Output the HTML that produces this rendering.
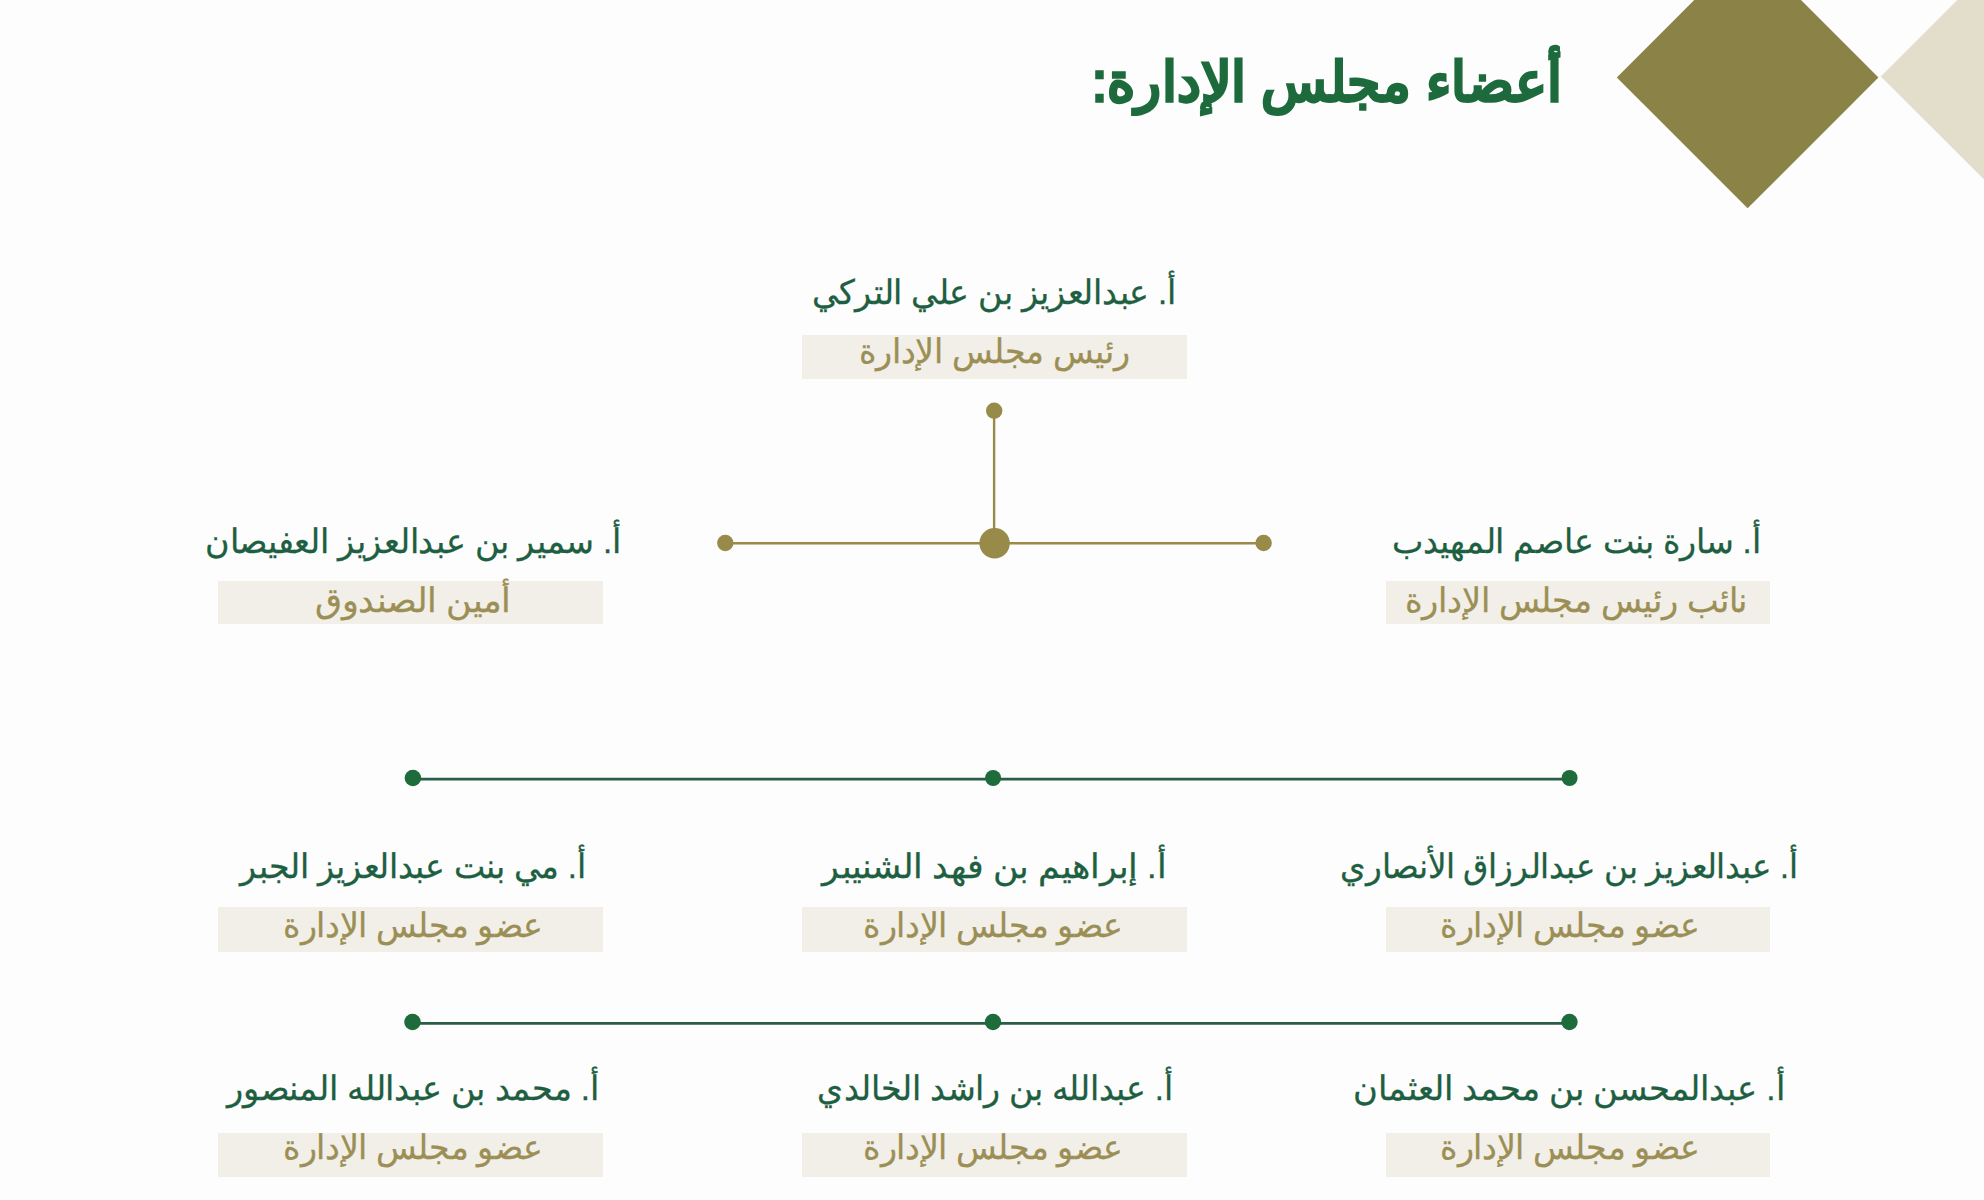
<!DOCTYPE html>
<html lang="ar"><head><meta charset="utf-8"><title>أعضاء مجلس الإدارة</title>
<style>
html,body{margin:0;padding:0}
body{width:1984px;height:1200px;overflow:hidden;background:#fdfdfd;position:relative;font-family:"Liberation Sans",sans-serif}
.d{position:absolute}
.dm{position:absolute;width:185.3px;height:185.3px;transform:rotate(45deg)}
.box{position:absolute;background:#f2efe9}
.t{position:absolute;white-space:nowrap;direction:rtl;text-align:center;line-height:40px;height:40px;transform-origin:50% 50%}
</style></head><body>
<div class="dm" style="left:1654.85px;top:-15.25px;background:#8b8247"></div>
<div class="dm" style="left:1918.95px;top:-15.65px;background:#e3decc"></div>
<div class="t" style="left:827.02px;top:61.60px;width:1000px;font-size:55.0px;color:#1d6a3d;font-weight:normal;transform:scaleX(0.9790);-webkit-text-stroke:3.4px #1d6a3d">أعضاء مجلس الإدارة:</div>
<div class="box" style="left:802.2px;top:335.1px;width:384.6px;height:43.9px"></div>
<div class="box" style="left:218.0px;top:580.6px;width:384.8px;height:43.9px"></div>
<div class="box" style="left:1386.0px;top:580.6px;width:384.0px;height:43.9px"></div>
<div class="box" style="left:1386.0px;top:907.3px;width:384.0px;height:44.3px"></div>
<div class="box" style="left:802.2px;top:907.3px;width:384.6px;height:44.3px"></div>
<div class="box" style="left:218.0px;top:907.3px;width:384.8px;height:44.3px"></div>
<div class="box" style="left:1386.0px;top:1133.0px;width:384.0px;height:44.0px"></div>
<div class="box" style="left:802.2px;top:1133.0px;width:384.6px;height:44.0px"></div>
<div class="box" style="left:218.0px;top:1133.0px;width:384.8px;height:44.0px"></div>
<div class="t" style="left:494.06px;top:272.50px;width:1000px;font-size:33.5px;color:#1e5f42;font-weight:normal;transform:scaleX(0.9797);-webkit-text-stroke:0.3px #1e5f42">أ. عبدالعزيز بن علي التركي</div>
<div class="t" style="left:-86.74px;top:522.00px;width:1000px;font-size:33.5px;color:#1e5f42;font-weight:normal;transform:scaleX(0.9822);-webkit-text-stroke:0.3px #1e5f42">أ. سمير بن عبدالعزيز العفيصان</div>
<div class="t" style="left:1076.26px;top:522.00px;width:1000px;font-size:33.5px;color:#1e5f42;font-weight:normal;transform:scaleX(0.9799);-webkit-text-stroke:0.3px #1e5f42">أ. سارة بنت عاصم المهيدب</div>
<div class="t" style="left:1068.52px;top:846.50px;width:1000px;font-size:33.5px;color:#1e5f42;font-weight:normal;transform:scaleX(0.9598);-webkit-text-stroke:0.3px #1e5f42">أ. عبدالعزيز بن عبدالرزاق الأنصاري</div>
<div class="t" style="left:494.02px;top:846.50px;width:1000px;font-size:33.5px;color:#1e5f42;font-weight:normal;transform:scaleX(1.0238);-webkit-text-stroke:0.3px #1e5f42">أ. إبراهيم بن فهد الشنيبر</div>
<div class="t" style="left:-87.02px;top:846.50px;width:1000px;font-size:33.5px;color:#1e5f42;font-weight:normal;transform:scaleX(0.9774);-webkit-text-stroke:0.3px #1e5f42">أ. مي بنت عبدالعزيز الجبر</div>
<div class="t" style="left:1069.20px;top:1068.50px;width:1000px;font-size:33.5px;color:#1e5f42;font-weight:normal;transform:scaleX(0.9944);-webkit-text-stroke:0.3px #1e5f42">أ. عبدالمحسن بن محمد العثمان</div>
<div class="t" style="left:495.01px;top:1068.50px;width:1000px;font-size:33.5px;color:#1e5f42;font-weight:normal;transform:scaleX(0.9778);-webkit-text-stroke:0.3px #1e5f42">أ. عبدالله بن راشد الخالدي</div>
<div class="t" style="left:-87.51px;top:1068.50px;width:1000px;font-size:33.5px;color:#1e5f42;font-weight:normal;transform:scaleX(0.9867);-webkit-text-stroke:0.3px #1e5f42">أ. محمد بن عبدالله المنصور</div>
<div class="t" style="left:494.01px;top:332.30px;width:1000px;font-size:33.5px;color:#9c8f55;font-weight:normal;transform:scaleX(0.9780);-webkit-text-stroke:0.3px #9c8f55">رئيس مجلس الإدارة</div>
<div class="t" style="left:-87.51px;top:580.70px;width:1000px;font-size:33.5px;color:#9c8f55;font-weight:normal;transform:scaleX(1.0267);-webkit-text-stroke:0.3px #9c8f55">أمين الصندوق</div>
<div class="t" style="left:1075.85px;top:580.70px;width:1000px;font-size:33.5px;color:#9c8f55;font-weight:normal;transform:scaleX(0.9874);-webkit-text-stroke:0.3px #9c8f55">نائب رئيس مجلس الإدارة</div>
<div class="t" style="left:1069.54px;top:906.10px;width:1000px;font-size:33.5px;color:#9c8f55;font-weight:normal;transform:scaleX(0.9774);-webkit-text-stroke:0.3px #9c8f55">عضو مجلس الإدارة</div>
<div class="t" style="left:493.49px;top:906.10px;width:1000px;font-size:33.5px;color:#9c8f55;font-weight:normal;transform:scaleX(0.9778);-webkit-text-stroke:0.3px #9c8f55">عضو مجلس الإدارة</div>
<div class="t" style="left:-87.31px;top:906.10px;width:1000px;font-size:33.5px;color:#9c8f55;font-weight:normal;transform:scaleX(0.9770);-webkit-text-stroke:0.3px #9c8f55">عضو مجلس الإدارة</div>
<div class="t" style="left:1069.54px;top:1128.00px;width:1000px;font-size:33.5px;color:#9c8f55;font-weight:normal;transform:scaleX(0.9774);-webkit-text-stroke:0.3px #9c8f55">عضو مجلس الإدارة</div>
<div class="t" style="left:493.49px;top:1128.00px;width:1000px;font-size:33.5px;color:#9c8f55;font-weight:normal;transform:scaleX(0.9778);-webkit-text-stroke:0.3px #9c8f55">عضو مجلس الإدارة</div>
<div class="t" style="left:-87.31px;top:1128.00px;width:1000px;font-size:33.5px;color:#9c8f55;font-weight:normal;transform:scaleX(0.9770);-webkit-text-stroke:0.3px #9c8f55">عضو مجلس الإدارة</div>
<svg class="d" style="left:0;top:0" width="1984" height="1200" viewBox="0 0 1984 1200">
<line x1="994.1" y1="410.7" x2="994.1" y2="543.2" stroke="#988a48" stroke-width="2.4"/>
<line x1="725.3" y1="543.3" x2="1263.6" y2="543.3" stroke="#988a48" stroke-width="2.4"/>
<circle cx="994.2" cy="410.7" r="8.2" fill="#988a48"/>
<circle cx="994.6" cy="543.2" r="15.2" fill="#988a48"/>
<circle cx="725.3" cy="543.0" r="8.2" fill="#988a48"/>
<circle cx="1263.6" cy="543.0" r="8.2" fill="#988a48"/>
<line x1="412.9" y1="779.2" x2="1569.6" y2="779.2" stroke="#285d46" stroke-width="2.7"/>
<circle cx="412.9" cy="778" r="8.3" fill="#1e6b3b"/>
<circle cx="993.1" cy="778" r="8.0" fill="#1e6b3b"/>
<circle cx="1569.6" cy="778" r="8.0" fill="#1e6b3b"/>
<line x1="412.5" y1="1023.4" x2="1569.5" y2="1023.4" stroke="#285d46" stroke-width="2.7"/>
<circle cx="412.5" cy="1022" r="8.3" fill="#1e6b3b"/>
<circle cx="993" cy="1022" r="8.2" fill="#1e6b3b"/>
<circle cx="1569.5" cy="1022" r="8.2" fill="#1e6b3b"/>
</svg>
</body></html>
